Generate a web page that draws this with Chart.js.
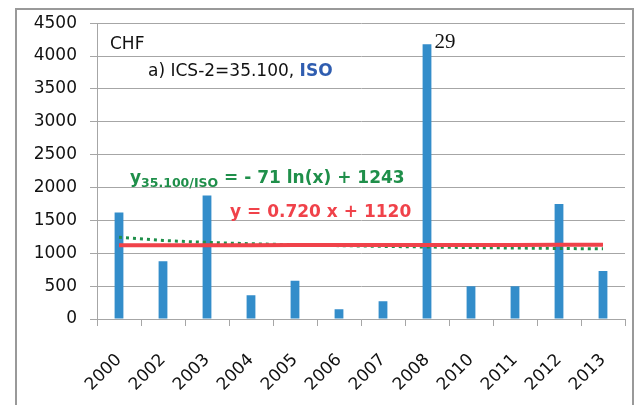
<!DOCTYPE html>
<html>
<head>
<meta charset="utf-8">
<script src="https://cdn.jsdelivr.net/npm/chart.js@4.4.1/dist/chart.umd.min.js"></script>
<style>
    html, body { margin: 0; padding: 0; background: #fff; }
</style>
</head>
<body>
<canvas id="chfChart" width="639" height="405"></canvas>
<script>
// data
const years = ["2000", "2002", "2003", "2004", "2005", "2006", "2007", "2008", "2010", "2011", "2012", "2013"];
const counts = [1620, 880, 1880, 360, 580, 150, 270, 4180, 500, 500, 1750, 730];
const linearTrend = [1121, 1121, 1122, 1123, 1124, 1124, 1125, 1126, 1126, 1127, 1128, 1129];
const logTrend = [1243, 1194, 1165, 1145, 1129, 1116, 1105, 1095, 1087, 1080, 1073, 1067];
const peakLabel = "29";
const peakIndex = 7;

const FONT = "'DejaVu Sans', sans-serif";
const GRID = "#a6a6a6";

function drawRuns(ctx, x, y, runs) {
    ctx.textAlign = "left";
    ctx.textBaseline = "alphabetic";
    runs.forEach(function (r) {
        ctx.font = r.font;
        ctx.fillStyle = r.color;
        ctx.fillText(r.text, x, y + (r.dy || 0));
        x += ctx.measureText(r.text).width;
    });
}

const annotations = {
    id: "annotations",
    beforeDraw(chart) {
        const ctx = chart.ctx;
        ctx.save();
        ctx.strokeStyle = "#999";
        ctx.lineWidth = 2;
        ctx.strokeRect(16, 9, 617, 420);
        ctx.restore();
    },
    afterDraw(chart) {
        const ctx = chart.ctx;
        ctx.save();
        drawRuns(ctx, 110, 49, [{ text: "CHF", font: "17px " + FONT, color: "#111" }]);
        drawRuns(ctx, 148, 76, [
            { text: "a) ICS-2=35.100, ", font: "17px " + FONT, color: "#111" },
            { text: "ISO", font: "bold 17px " + FONT, color: "#2f5db0" }
        ]);
        drawRuns(ctx, 130, 183, [
            { text: "y", font: "bold 17px " + FONT, color: "#1f8f4a" },
            { text: "35.100/ISO", font: "bold 12.5px " + FONT, color: "#1f8f4a", dy: 4 },
            { text: " = - 71 ln(x) + 1243", font: "bold 17px " + FONT, color: "#1f8f4a" }
        ]);
        drawRuns(ctx, 230, 217, [
            { text: "y = 0.720 x + 1120", font: "bold 17px " + FONT, color: "#f0424a" }
        ]);

        const bar = chart.getDatasetMeta(2).data[peakIndex];
        drawRuns(ctx, bar.x + bar.width / 2 + 3, bar.y + 4, [
            { text: peakLabel, font: "21px 'Liberation Serif', serif", color: "#111" }
        ]);
        ctx.restore();
    }
};

new Chart(document.getElementById("chfChart"), {
    type: "bar",
    data: {
        labels: years,
        datasets: [{
            type: "line",
            data: linearTrend,
            borderColor: "#f0424a",
            borderWidth: 4,
            pointRadius: 0,
            fill: false,
            order: 1
        }, {
            type: "line",
            data: logTrend,
            borderColor: "#1f8f4a",
            borderWidth: 3,
            borderDash: [3, 4],
            pointRadius: 0,
            fill: false,
            order: 2
        }, {
            data: counts,
            backgroundColor: "#338dca",
            categoryPercentage: 1,
            barPercentage: 0.2,
            order: 3
        }]
    },
    options: {
        responsive: false,
        animation: false,
        layout: { padding: { top: 22, right: 14, left: 0, bottom: 0 } },
        plugins: {
            legend: { display: false },
            tooltip: { enabled: false }
        },
        scales: {
            x: {
                afterFit(scale) {
                    scale.height = 86;
                    scale.paddingLeft = 0;
                    scale.paddingRight = 0;
                },
                grid: {
                    drawOnChartArea: false,
                    drawTicks: true,
                    tickLength: 7,
                    color: GRID
                },
                border: { color: GRID },
                ticks: {
                    minRotation: 45,
                    maxRotation: 45,
                    padding: 24,
                    color: "#111",
                    font: { family: FONT, size: 17 }
                }
            },
            y: {
                min: 0,
                max: 4500,
                afterFit(scale) { scale.width = 97; },
                grid: { color: GRID, tickLength: 7 },
                border: { color: GRID },
                ticks: {
                    stepSize: 500,
                    padding: 13,
                    color: "#111",
                    font: { family: FONT, size: 17 },
                    callback: function (value) { return String(value); }
                }
            }
        }
    },
    plugins: [annotations]
});
</script>
</body>
</html>
